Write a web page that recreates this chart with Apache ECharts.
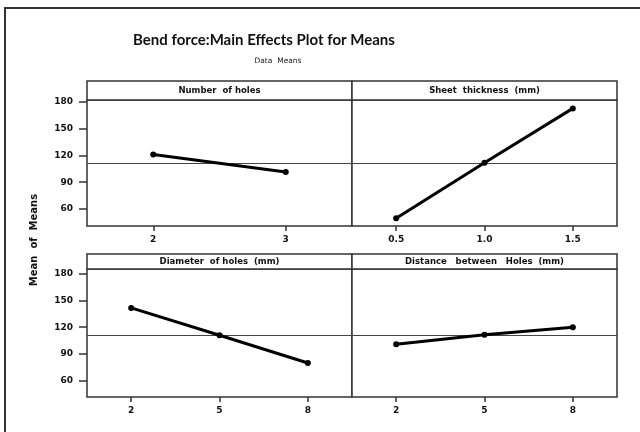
<!DOCTYPE html>
<html>
<head>
<meta charset="utf-8">
<script src="https://cdn.jsdelivr.net/npm/echarts@6/dist/echarts.min.js"></script>
<style>
    html, body { margin: 0; padding: 0; background: #fff; }
    #main { width: 640px; height: 432px; }
</style>
</head>
<body>
<div id="main"></div>
<script>
// 数据
var numHoles = ['2', '3'];
var numHolesMean = [121, 101.5];
var thickness = ['0.5', '1.0', '1.5'];
var thicknessMean = [49.6, 111.8, 172.6];
var diameter = ['2', '5', '8'];
var diameterMean = [141.5, 111, 80];
var distance = ['2', '5', '8'];
var distanceMean = [101, 111.5, 120];
var grandMean = 111.3;
var yTicks = [60, 90, 120, 150, 180];
var panelTitles = ['Number  of holes', 'Sheet  thickness  (mm)', 'Diameter  of holes  (mm)', 'Distance   between   Holes  (mm)'];

var myChart = echarts.init(document.getElementById('main'));

var labelFont = 'DejaVu Sans';
var lineColor = '#333';

// 面板布局
var panels = [
    { left: 87, top: 100, width: 265, height: 126, stripTop: 81, stripH: 19, min: 41, max: 182, cats: numHoles, vals: numHolesMean, yLabel: true },
    { left: 352, top: 100, width: 265, height: 126, stripTop: 81, stripH: 19, min: 41, max: 182, cats: thickness, vals: thicknessMean, yLabel: false },
    { left: 87, top: 269, width: 265, height: 128, stripTop: 254, stripH: 15, min: 42, max: 185, cats: diameter, vals: diameterMean, yLabel: true },
    { left: 352, top: 269, width: 265, height: 128, stripTop: 254, stripH: 15, min: 42, max: 185, cats: distance, vals: distanceMean, yLabel: false }
];

var grids = [], xAxes = [], yAxes = [], series = [];
var graphics = [
    // 外框
    {
        type: 'rect',
        shape: { x: 5, y: 8, width: 650, height: 440 },
        style: { fill: 'none', stroke: '#333', lineWidth: 2 },
        z: 0
    },
    // 标题
    {
        type: 'text',
        style: {
            text: 'Bend force:Main Effects Plot for Means',
            x: 264, y: 40,
            textAlign: 'center', textVerticalAlign: 'middle',
            font: 'bold 15px Lato', fill: '#111'
        }
    },
    {
        type: 'text',
        style: {
            text: 'Data  Means',
            x: 278, y: 61,
            textAlign: 'center', textVerticalAlign: 'middle',
            font: '7.5px "DejaVu Sans"', fill: '#222'
        }
    },
    // Y轴名称
    {
        type: 'text',
        rotation: Math.PI / 2,
        x: 34, y: 240,
        style: {
            text: 'Mean  of  Means',
            x: 0, y: 0,
            textAlign: 'center', textVerticalAlign: 'middle',
            font: 'bold 10px "DejaVu Sans"', fill: '#111'
        }
    }
];

panels.forEach(function (p, i) {
    grids.push({
        left: p.left, top: p.top, width: p.width, height: p.height,
        show: true,
        borderColor: lineColor,
        borderWidth: 1.5,
        backgroundColor: '#fff'
    });
    xAxes.push({
        type: 'category',
        gridIndex: i,
        data: p.cats,
        boundaryGap: true,
        axisLine: { show: false },
        axisTick: { show: true, alignWithLabel: true, length: 5, lineStyle: { color: lineColor, width: 1.5 } },
        axisLabel: { margin: 9, color: '#111', fontFamily: labelFont, fontWeight: 'bold', fontSize: 9 },
        splitLine: { show: false }
    });
    yAxes.push({
        type: 'value',
        gridIndex: i,
        min: p.min,
        max: p.max,
        axisLine: { show: false },
        axisTick: {
            show: p.yLabel,
            length: 8,
            customValues: yTicks,
            lineStyle: { color: lineColor, width: 1.5 }
        },
        axisLabel: {
            show: p.yLabel,
            margin: 14,
            customValues: yTicks,
            color: '#111', fontFamily: labelFont, fontWeight: 'bold', fontSize: 9
        },
        splitLine: { show: false }
    });
    series.push({
        type: 'line',
        xAxisIndex: i,
        yAxisIndex: i,
        data: p.vals,
        symbol: 'circle',
        symbolSize: 6,
        color: '#000',
        lineStyle: { color: '#000', width: 3 },
        itemStyle: { color: '#000' },
        z: 3,
        markLine: {
            silent: true,
            symbol: 'none',
            label: { show: false },
            lineStyle: { color: '#444', width: 1, type: 'solid' },
            data: [{ yAxis: grandMean }],
            z: 2
        }
    });
    // 面板标题条
    graphics.push({
        type: 'rect',
        shape: { x: p.left, y: p.stripTop, width: p.width, height: p.stripH },
        style: { fill: '#fff', stroke: lineColor, lineWidth: 1.5 }
    });
    graphics.push({
        type: 'text',
        style: {
            text: panelTitles[i],
            x: p.left + p.width / 2,
            y: p.stripTop + p.stripH / 2 + 0.5,
            textAlign: 'center', textVerticalAlign: 'middle',
            font: 'bold 8.5px "DejaVu Sans"', fill: '#111'
        }
    });
});

var option = {
    backgroundColor: '#fff',
    animation: false,
    grid: grids,
    xAxis: xAxes,
    yAxis: yAxes,
    series: series,
    graphic: graphics
};

myChart.setOption(option);
</script>
</body>
</html>
